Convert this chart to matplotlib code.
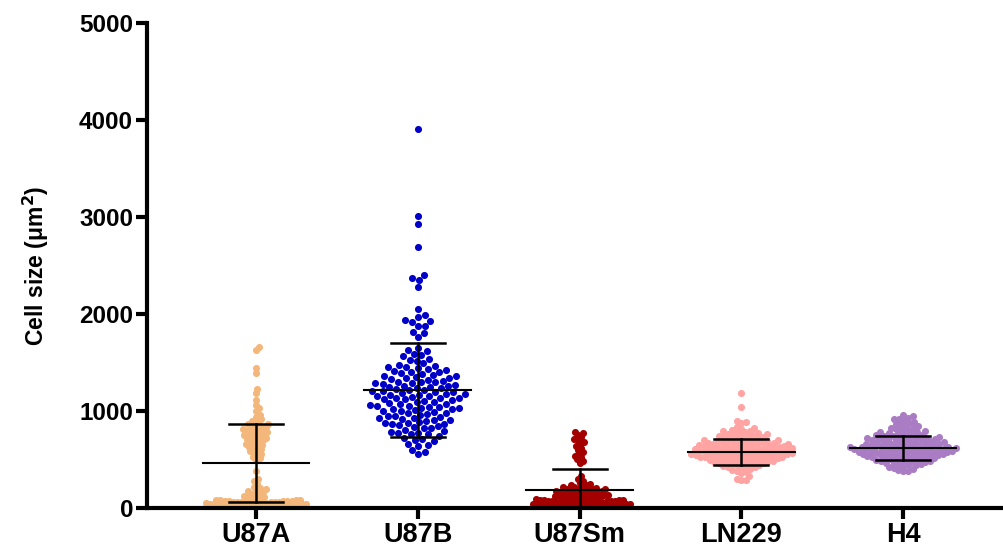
import numpy as np
import matplotlib
matplotlib.use("Agg")
import matplotlib.pyplot as plt

plt.rcParams['font.family'] = ['Liberation Sans', 'DejaVu Sans']
plt.rcParams['font.weight'] = 'bold'

categories = ['U87A', 'U87B', 'U87Sm', 'LN229', 'H4']
colors = ['#F3B77B', '#0000C8', '#A50000', '#FFA3A3', '#AA7CC4']

# cell sizes (um^2)
u87a = [1662, 1634, 1448, 1396, 1228, 1186, 1115, 1066, 1032, 1001, 962, 941, 916,
        893, 884, 871, 862, 856, 848, 839, 831, 822, 814, 808, 799, 792, 784, 779,
        768, 761, 754, 748, 739, 731, 722, 716, 709, 698, 691, 679, 671, 659, 648,
        641, 628, 619, 607, 596, 584, 571, 559, 543, 528, 514, 499,
        382, 301, 283, 252, 221, 203, 192, 181, 172, 161, 152, 143, 131, 122, 117,
        109, 101,
        92, 88, 86, 83, 81, 79, 77, 75, 73, 71, 69, 67, 66, 64, 62, 61, 59, 57, 56,
        54, 52, 51, 49, 47, 46, 44, 43, 41, 39, 38, 36, 35, 33, 31, 30, 28, 27, 25,
        23, 22, 20, 18, 17, 15, 13, 12, 10, 9]

u87b = [3905, 3012, 2932, 2688, 2402, 2376, 2349, 2276, 2052, 1986, 1974, 1936,
        1929, 1918, 1881, 1873, 1811, 1803, 1758,
        1652, 1631, 1618, 1592, 1579, 1568, 1541, 1528, 1519,
        1491, 1472, 1461, 1456, 1449, 1444, 1431, 1422, 1411, 1404, 1399, 1394,
        1386, 1374, 1362, 1356, 1349, 1343, 1338, 1329, 1321, 1311, 1304, 1299,
        1294, 1289, 1284, 1278, 1271, 1262, 1256, 1251, 1246, 1239, 1236, 1229,
        1221, 1214, 1209, 1204,
        1196, 1191, 1184, 1179, 1176, 1169, 1164, 1158, 1151, 1146, 1139, 1134,
        1131, 1124, 1119, 1111, 1104,
        1096, 1089, 1081, 1076, 1069, 1061, 1056, 1049, 1044, 1041, 1034, 1029,
        1021, 1016, 1009, 1004,
        996, 989, 984, 979, 971, 961, 951, 946, 939, 931, 924, 919, 911, 904,
        896, 886, 879, 874, 869, 861, 851, 841, 836, 829, 821, 809,
        791, 781, 774, 769, 766, 758, 741, 722, 711, 704,
        689, 661, 646, 639, 601, 579, 556]

u87sm = [786, 771, 752, 731, 716, 702, 681, 662, 641, 622, 601, 582, 561, 539,
         521, 502, 481, 466,
         331, 302, 279, 262, 252, 241, 236, 229, 221, 216, 211, 206, 199, 196,
         194, 189, 186, 181, 178, 176, 172, 169, 166, 161, 158, 152, 149, 146,
         142, 139, 134, 131, 129, 126, 122, 119, 114, 111, 108, 106, 103, 101,
         96, 93, 91, 88, 86, 84, 82, 80, 78, 76, 74, 72, 70, 68, 66, 64, 62, 61,
         59, 57, 55, 53, 52, 50, 48, 46, 45, 43, 41, 40, 38, 36, 35, 33, 31, 30,
         28, 26, 25, 23, 21, 20, 18, 17, 15, 13, 12, 10, 9, 8]

ln229 = [1182, 1046, 902, 889, 874, 838, 826, 812, 803,
         796, 791, 784, 779, 771, 768, 761, 757, 752,
         747, 744, 737, 731, 729, 721, 717, 713, 706, 703, 701,
         699, 694, 691, 687, 684, 683, 677, 674, 671, 669, 664, 661, 659, 656, 653, 651,
         648, 646, 641, 639, 638, 634, 633, 629, 627, 624, 623, 619, 618, 614, 611,
         609, 606, 604, 603, 601,
         598, 596, 593, 589, 588, 586, 583, 579, 578, 574, 573, 571, 566, 564, 563,
         559, 558, 554, 553, 551,
         549, 544, 543, 541, 538, 534, 533, 529, 526, 524, 521, 519, 516, 514, 511,
         508, 506, 501,
         497, 494, 491, 486, 484, 481, 476, 473, 469, 466, 461, 456, 451,
         447, 443, 436, 431, 424, 419, 411, 404,
         396, 384, 372, 358, 331, 302, 291, 286]

h4 = [958, 944, 931, 922, 913, 902, 889, 876, 866, 858, 846, 838, 829, 821, 812,
      804, 797, 791, 786, 779, 772, 768, 763, 757, 752,
      748, 744, 741, 737, 733, 729, 726, 722, 718, 714, 711, 707, 703,
      699, 696, 693, 689, 686, 683, 679, 676, 673, 669, 667, 664, 661, 657, 654, 651,
      648, 646, 643, 641, 638, 636, 633, 631, 628, 626, 623, 621, 619, 616, 613,
      611, 608, 606, 604, 602,
      599, 597, 594, 592, 589, 587, 584, 582, 579, 577, 574, 572, 569, 567, 564,
      561, 558, 556, 553, 551,
      548, 545, 542, 539, 536, 532, 529, 526, 523, 519, 516, 513, 509, 505, 502,
      498, 494, 489, 485, 481, 476, 472, 467, 462, 456, 451,
      446, 439, 431, 423, 414, 405, 396, 386, 377]

groups = [u87a, u87b, u87sm, ln229, h4]
means = [464, 1216, 186, 577, 619]
sds = [402, 484, 216, 134, 123]
gaps = [4.2, 7.2, 4.2, 5.0, 5.0]  # min centre distance in px for swarm layout


def swarm(ypix, d):
    order = np.argsort(ypix)
    xs = np.zeros(len(ypix))
    placed = []
    for i in order:
        y = ypix[i]
        cands = [0.0]
        for (xj, yj) in placed:
            dy = y - yj
            if abs(dy) < d:
                dx = np.sqrt(d * d - dy * dy)
                cands += [xj + dx, xj - dx]
        cands.sort(key=abs)
        for c in cands:
            ok = True
            for (xj, yj) in placed:
                if (c - xj) ** 2 + (y - yj) ** 2 < d * d - 1e-6:
                    ok = False
                    break
            if ok:
                xs[i] = c
                break
        placed.append((xs[i], y))
    return xs


fig = plt.figure(figsize=(10.04, 5.51), dpi=100)
ax = fig.add_axes([147 / 1004, 43 / 551, 857 / 1004, 485 / 551])
ax.set_xlim(-0.674, 4.624)
ax.set_ylim(0, 5000)

fig.canvas.draw()
ppx = ax.bbox.width / (4.624 + 0.674)
ppy = ax.bbox.height / 5000

for k, vals in enumerate(groups):
    v = np.array(vals, dtype=float)
    off = swarm(v * ppy, gaps[k]) / ppx
    ax.scatter(k + off, v, s=26, color=colors[k], linewidths=0, zorder=2)
    m, s = means[k], sds[k]
    ax.plot([k - 0.33, k + 0.33], [m, m], color='black', lw=1.5, zorder=3)
    ax.plot([k - 0.167, k + 0.167], [m + s, m + s], color='black', lw=1.8, zorder=3)
    ax.plot([k - 0.167, k + 0.167], [m - s, m - s], color='black', lw=1.8, zorder=3)
    ax.plot([k, k], [m - s, m + s], color='black', lw=1.8, zorder=3)

for sp in ['top', 'right']:
    ax.spines[sp].set_visible(False)
for sp in ['left', 'bottom']:
    ax.spines[sp].set_linewidth(3)
    ax.spines[sp].set_zorder(4)

ax.set_yticks([0, 1000, 2000, 3000, 4000, 5000])
ax.set_xticks(range(len(categories)))
ax.set_xticklabels(categories)
ax.tick_params(axis='both', width=3, length=8, pad=2)
ax.tick_params(axis='y', labelsize=17.5)
ax.tick_params(axis='x', labelsize=19.5)
for lab in ax.get_xticklabels() + ax.get_yticklabels():
    lab.set_fontweight('bold')
ax.set_ylabel('Cell size (\u03bcm$^\\mathbf{2}$)', fontsize=16.5, fontweight='bold',
              labelpad=20)

fig.savefig('out.png', dpi=100)
